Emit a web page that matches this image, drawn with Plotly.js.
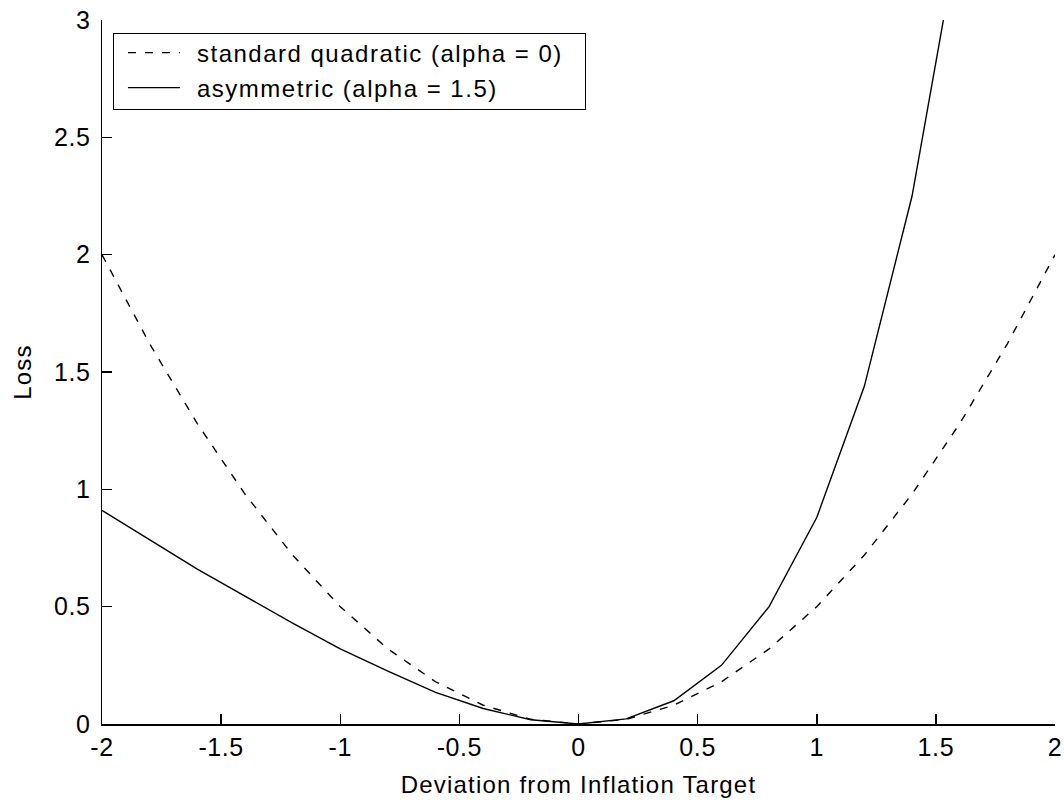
<!DOCTYPE html>
<html>
<head>
<meta charset="utf-8">
<script src="https://cdn.plot.ly/plotly-3.0.1.min.js"></script>
<style>
html,body{margin:0;padding:0;background:#fff;}
#chart{width:1064px;height:803px;}
#chart .g-xtitle text, #chart .g-ytitle text{letter-spacing:1.2px;}
#chart .xtick text, #chart .ytick text{letter-spacing:0.6px;}
#chart .legend text.legendtext{letter-spacing:1.5px;}
</style>
</head>
<body>
<div id="chart"></div>
<script>
// Deviation from inflation target (x) values
const deviation = [-2.0,-1.8,-1.6,-1.4,-1.2,-1.0,-0.8,-0.6,-0.4,-0.2,0.0,0.2,0.4,0.6,0.8,1.0,1.2,1.4,1.6,1.8,2.0];
// Standard quadratic loss (alpha = 0)
const quadLoss = [2.0,1.62,1.28,0.98,0.72,0.5,0.32,0.18,0.08,0.02,0.0,0.02,0.08,0.18,0.32,0.5,0.72,0.98,1.28,1.62,2.0];
// Asymmetric loss (alpha = 1.5) (last points run off the top)
const asymLoss = [0.91,0.785,0.66,0.545,0.43,0.32,0.225,0.135,0.066,0.018,0.0,0.022,0.099,0.25,0.50,0.88,1.44,2.25,3.39,4.9,6.9];

const seriesNames = ["standard quadratic (alpha = 0)", "asymmetric (alpha = 1.5)"];
const xTicks = [-2,-1.5,-1,-0.5,0,0.5,1,1.5,2];
const xTickText = ["-2","-1.5","-1","-0.5","0","0.5","1","1.5","2"];
const yTicks = [0,0.5,1,1.5,2,2.5,3];
const yTickText = ["0","0.5","1","1.5","2","2.5","3"];

const FONT = "Liberation Sans, Arial, Helvetica, sans-serif";

const traces = [
  {x: deviation, y: quadLoss, name: seriesNames[0], type: "scatter", mode: "lines",
   line: {color: "#000", width: 1.4, dash: "8px,9px"}},
  {x: deviation, y: asymLoss, name: seriesNames[1], type: "scatter", mode: "lines",
   line: {color: "#000", width: 1.4}}
];

const layout = {
  width: 1064, height: 803,
  paper_bgcolor: "#fff", plot_bgcolor: "#fff",
  margin: {l: 102, r: 9, t: 20, b: 79},
  font: {family: FONT, color: "#000", size: 20},
  showlegend: true,
  legend: {x: 0.0115, y: 0.982, xanchor: "left", yanchor: "top",
           bordercolor: "#000", borderwidth: 1.5, bgcolor: "#fff",
           font: {family: FONT, size: 24, color: "#000"},
           tracegroupgap: 0},
  xaxis: {range: [-2, 2], tickvals: xTicks, ticktext: xTickText,
          ticks: "inside", ticklen: 10, tickwidth: 1.5, tickcolor: "#000",
          showline: true, linecolor: "#000", linewidth: 1.5, mirror: false,
          showgrid: false, zeroline: false,
          tickfont: {family: FONT, size: 25, color: "#000"},
          title: {text: "Deviation from Inflation Target", font: {family: FONT, size: 24, color: "#000"}, standoff: 16}},
  yaxis: {range: [0, 3], tickvals: yTicks, ticktext: yTickText,
          ticks: "inside", ticklen: 10, tickwidth: 1.5, tickcolor: "#000",
          showline: true, linecolor: "#000", linewidth: 1.5, mirror: false,
          showgrid: false, zeroline: false, ticklabelstandoff: 5,
          tickfont: {family: FONT, size: 25, color: "#000"},
          title: {text: "Loss", font: {family: FONT, size: 24, color: "#000"}, standoff: 17}}
};

Plotly.newPlot("chart", traces, layout, {displayModeBar: false, staticPlot: true}).then(function (gd) {
  // MATLAB-style legend: long line samples, rows spaced like the reference
  const rowY = [20, 55];
  const textX = 84;
  let maxRight = 0;
  gd.querySelectorAll(".legend .traces").forEach(function (t, i) {
    t.setAttribute("transform", "translate(0," + rowY[i] + ")");
    t.querySelectorAll(".legendlines path").forEach(function (p) { p.setAttribute("d", "M15,0h52"); });
    const txt = t.querySelector("text.legendtext");
    if (txt) {
      txt.setAttribute("x", textX);
      maxRight = Math.max(maxRight, textX + txt.getComputedTextLength());
    }
  });
  const bg = gd.querySelector(".legend rect.bg");
  if (bg) {
    bg.setAttribute("width", maxRight + 22);
    bg.setAttribute("height", 76);
  }
  const sb = gd.querySelector(".legend .scrollbox");
  if (sb) sb.removeAttribute("clip-path");
});
</script>
</body>
</html>
